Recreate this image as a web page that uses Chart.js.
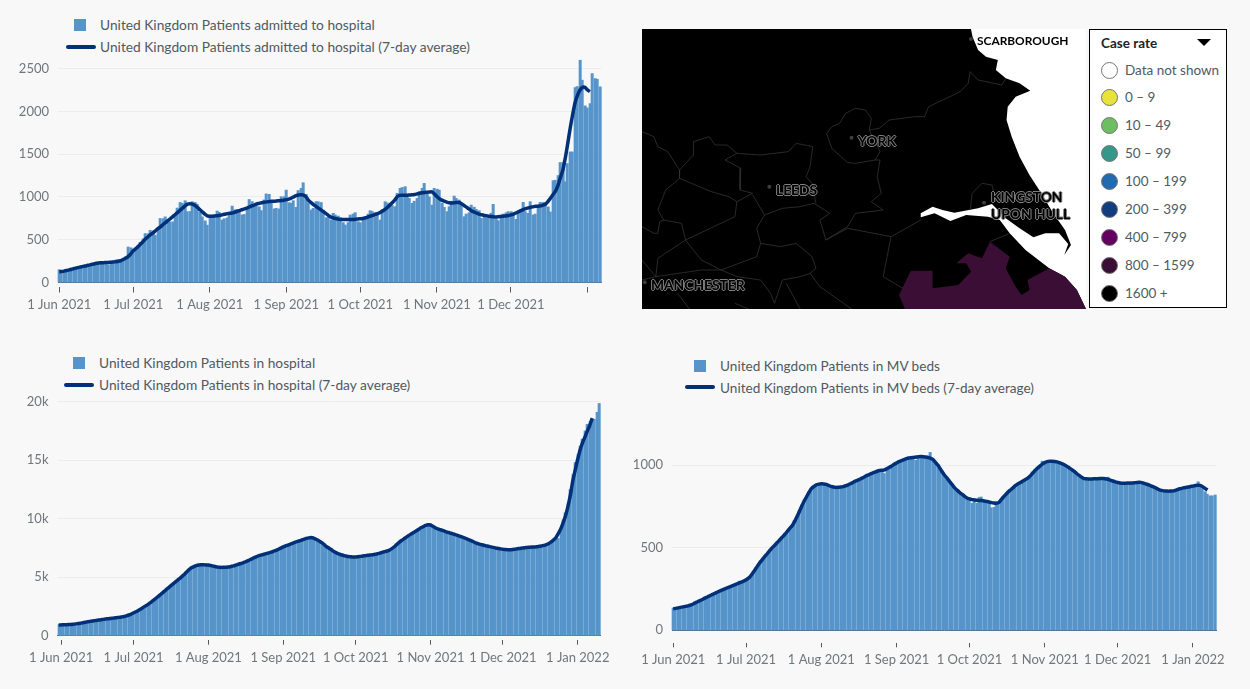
<!DOCTYPE html>
<html lang="en">
<head>
<meta charset="utf-8">
<title>UK hospital charts</title>
<script src="https://cdn.jsdelivr.net/npm/chart.js@4"></script>
<style>
  html, body { margin: 0; padding: 0; background: #f8f8f8; }
  body { position: relative; width: 1250px; height: 689px; overflow: hidden; font-family: Lato, sans-serif; color: #505a5f; }
  canvas { position: absolute; display: block; }
  .legend-text { position: absolute; font-size: 13.75px; line-height: 18px; white-space: nowrap; }
  .legend-box { position: absolute; width: 12px; height: 12px; background: #5694ca; }
  .legend-line { position: absolute; width: 30px; height: 3.5px; background: #003078; border-radius: 2px; }
  #mapLegend { position: absolute; left: 1089px; top: 29px; width: 136px; height: 277px; border: 1.5px solid #000; background: #fff; }
  #mapLegend .title { position: absolute; left: 11px; top: 4px; font-size: 13.5px; font-weight: 700; line-height: 18px; color: #222; }
  #mapLegend .arrow { position: absolute; left: 107px; top: 9px; width: 0; height: 0; border-left: 7px solid transparent; border-right: 7px solid transparent; border-top: 7px solid #000; }
  #mapLegend .dot { position: absolute; left: 11px; width: 15px; height: 15px; border-radius: 50%; border: 1px solid #777; }
  #mapLegend .txt { position: absolute; left: 35px; font-size: 13.5px; line-height: 18px; white-space: nowrap; color: #505a5f; }
  .city { position: absolute; font-size: 13.8px; font-weight: 700; line-height: 16px; color: #000; white-space: nowrap;
          text-shadow: 1px 0 0 #808080, -1px 0 0 #808080, 0 1px 0 #808080, 0 -1px 0 #808080; }
</style>
</head>
<body>

<div class="legend-box" style="left:74px;top:19px"></div>
<div class="legend-text" style="left:100px;top:16px">United Kingdom Patients admitted to hospital</div>
<div class="legend-line" style="left:66px;top:45px"></div>
<div class="legend-text" style="left:100px;top:38px">United Kingdom Patients admitted to hospital (7-day average)</div>

<div class="legend-box" style="left:73px;top:357px"></div>
<div class="legend-text" style="left:99px;top:354px">United Kingdom Patients in hospital</div>
<div class="legend-line" style="left:64px;top:383px"></div>
<div class="legend-text" style="left:99px;top:376px">United Kingdom Patients in hospital (7-day average)</div>

<div class="legend-box" style="left:694px;top:360px"></div>
<div class="legend-text" style="left:720px;top:357px;font-size:13.6px">United Kingdom Patients in MV beds</div>
<div class="legend-line" style="left:685px;top:385px"></div>
<div class="legend-text" style="left:720px;top:379px;font-size:13.6px">United Kingdom Patients in MV beds (7-day average)</div>

<canvas id="admittedChart" width="625" height="270" style="left:0;top:50px"></canvas>
<canvas id="hospitalChart" width="625" height="299" style="left:0;top:390px"></canvas>
<canvas id="mvChart" width="625" height="299" style="left:625px;top:390px"></canvas>
<canvas id="mapChart" width="444" height="280" style="left:642px;top:29px;background:#000"></canvas>

<div class="city" style="left:977px;top:33px;font-size:11.9px;text-shadow:none">SCARBOROUGH</div>
<div class="city" style="left:858px;top:133px">YORK</div>
<div class="city" style="left:776px;top:182px">LEEDS</div>
<div class="city" style="left:991px;top:189px">KINGSTON</div>
<div class="city" style="left:991px;top:206px">UPON HULL</div>
<div class="city" style="left:651px;top:277px">MANCHESTER</div>

<div id="mapLegend">
  <div class="title">Case rate</div>
  <div class="arrow"></div>
</div>

<script>
// ---- datos de los graficos ----
const tickLabelsAdmitted = ['1 Jun 2021', '1 Jul 2021', '1 Aug 2021', '1 Sep 2021', '1 Oct 2021', '1 Nov 2021', '1 Dec 2021', ''];
const tickLabelsLong = ['1 Jun 2021', '1 Jul 2021', '1 Aug 2021', '1 Sep 2021', '1 Oct 2021', '1 Nov 2021', '1 Dec 2021', '1 Jan 2022'];
const tickDays = [0, 30, 61, 92, 122, 153, 183, 214];
const admittedYTicks = [0, 500, 1000, 1500, 2000, 2500];
const hospitalYTicks = [0, 5000, 10000, 15000, 20000];
const mvYTicks = [0, 500, 1000];

const admittedBars = [
  150,120,125,130,135,140,165,150,160,175,
  185,195,190,205,215,235,240,238,232,225,
  205,225,250,265,270,255,270,300,415,405,
  385,400,430,470,510,572,570,610,600,553,
  625,748,745,767,720,709,709,790,870,935,
  925,955,828,830,944,935,915,820,767,720,
  670,757,755,780,835,820,730,745,755,810,
  893,850,855,850,790,795,860,970,945,880,
  925,885,840,965,1035,1030,950,860,867,860,
  1003,1003,1080,933,925,956,878,1075,1100,1166,
  1030,925,847,866,945,944,935,847,757,760,
  730,808,790,777,760,700,672,700,789,800,
  816,711,699,730,769,800,839,830,816,808,
  730,850,944,930,925,900,886,1042,1100,1110,
  1120,1000,983,925,950,983,1061,1100,1158,1061,
  1000,905,1100,1090,1080,925,878,828,886,950,
  1010,983,964,905,769,800,816,905,880,855,
  839,750,760,755,750,810,913,738,722,760,
  800,815,828,828,800,738,808,850,937,830,
  808,944,789,800,900,937,935,937,884,825,
  1190,1195,1250,1402,1402,1176,1390,1526,1526,2278,
  2290,2597,2364,2064,2040,2090,2441,2383,2375,2286
];
const admittedAverage = [
  125,128,133,140,148,155,163,170,177,184,
  190,196,203,210,217,224,228,230,232,233,
  235,237,240,243,247,255,270,285,305,335,
  370,395,420,450,480,510,535,560,580,605,
  630,650,675,700,722,745,770,795,820,845,
  870,895,915,920,915,900,878,850,825,800,
  778,775,775,778,780,785,790,797,805,808,
  812,820,830,840,850,860,870,882,895,905,
  918,925,932,938,942,945,948,950,952,955,
  958,962,968,975,985,1000,1015,1022,1025,1022,
  1000,960,935,910,890,870,848,828,808,785,
  765,755,748,740,735,735,735,736,736,737,
  738,742,745,748,755,765,775,785,795,806,
  818,835,855,878,905,935,965,1005,1018,1020,
  1020,1020,1022,1024,1028,1035,1042,1048,1052,1055,
  1058,1058,1035,1005,980,962,950,940,932,928,
  932,935,935,920,900,880,860,838,825,812,
  800,792,785,780,775,770,767,765,768,772,
  775,778,782,790,800,812,825,840,852,864,
  872,880,885,890,892,895,905,915,945,985,
  1025,1065,1130,1220,1310,1450,1620,1800,1960,2100,
  2190,2250,2280,2280,2250,2230,null,null,null,null
];

const hospitalBars = [
  960,930,940,950,960,980,1000,1030,1050,1090,
  1120,1170,1200,1240,1270,1310,1340,1360,1400,1430,
  1450,1480,1510,1520,1550,1590,1620,1660,1720,1790,
  1880,1970,2090,2180,2320,2450,2560,2700,2860,3020,
  3180,3350,3500,3690,3870,4050,4200,4380,4550,4720,
  4900,5090,5280,5470,5700,5900,5990,6040,6100,6060,
  6020,6130,6050,5960,5910,5880,5840,5810,5860,5860,
  5880,5920,5930,6030,6120,6170,6220,6300,6400,6500,
  6600,6700,6800,6910,6900,6950,7060,7100,7190,7260,
  7310,7420,7520,7620,7700,7730,7860,7950,8020,8100,
  8150,8230,8300,8380,8420,8390,8310,8230,8100,7980,
  7800,7590,7500,7300,7180,7050,7000,6930,6860,6820,
  6790,6720,6690,6640,6770,6800,6830,6850,6880,6920,
  6950,6970,7030,7090,7150,7210,7280,7360,7480,7640,
  7830,8020,8180,8320,8460,8600,8750,8870,9000,9120,
  9280,9370,9470,9600,9550,9380,9210,9050,9100,9020,
  8950,8870,8820,8740,8700,8640,8540,8470,8400,8310,
  8220,8110,8030,7940,7830,7780,7700,7620,7640,7610,
  7530,7480,7430,7400,7370,7340,7330,7370,7390,7420,
  7450,7480,7520,7500,7580,7570,7600,7620,7560,7660,
  7700,7730,7770,7920,8040,8120,8300,8300,9100,9900,
  10500,11300,12500,13800,14800,15500,16200,16800,17500,18070,
  18300,18400,18500,19100,19850
];
const hospitalAverage = [
  920,925,930,940,950,965,985,1010,1040,1070,
  1110,1150,1190,1225,1260,1290,1320,1350,1380,1410,
  1440,1465,1490,1515,1540,1565,1600,1640,1700,1770,
  1850,1950,2050,2160,2290,2420,2550,2680,2830,2990,
  3150,3320,3490,3660,3840,4020,4190,4360,4530,4700,
  4870,5045,5240,5440,5650,5800,5900,5990,6040,6060,
  6060,6050,6040,6000,5950,5900,5860,5840,5840,5850,
  5870,5900,5950,6000,6080,6150,6210,6290,6370,6470,
  6570,6670,6760,6840,6900,6960,7020,7080,7140,7220,
  7300,7390,7480,7590,7670,7750,7830,7910,7990,8060,
  8130,8200,8280,8340,8380,8370,8300,8200,8080,7950,
  7780,7600,7480,7340,7200,7080,6990,6920,6850,6810,
  6770,6740,6720,6720,6750,6780,6810,6840,6870,6900,
  6920,6960,7000,7060,7120,7180,7240,7320,7440,7600,
  7790,7980,8140,8280,8420,8570,8700,8830,8950,9080,
  9220,9320,9420,9490,9460,9350,9230,9130,9060,9000,
  8920,8850,8790,8720,8660,8590,8510,8450,8370,8280,
  8190,8100,8010,7920,7850,7790,7730,7680,7640,7590,
  7550,7500,7460,7420,7390,7360,7350,7350,7370,7400,
  7430,7460,7490,7520,7540,7560,7580,7590,7610,7640,
  7670,7720,7790,7880,8020,8190,8400,8750,9150,9680,
  10300,11100,12100,13300,14200,15100,15900,16500,17000,17500,
  18000,18600,null,null,null
];

const mvBars = [
  135,135,138,140,143,146,150,155,160,168,
  175,182,190,197,204,210,218,225,232,240,
  246,252,258,264,270,276,282,298,294,300,
  309,318,335,355,372,398,420,436,455,470,
  490,506,520,536,553,568,585,602,620,640,
  665,692,725,760,790,815,842,862,875,885,
  890,886,888,880,876,868,864,862,866,870,
  873,878,884,892,898,906,912,918,926,935,
  942,948,955,960,962,970,972,950,984,990,
  1000,1010,1020,1025,1030,1030,1042,1044,1048,1052,
  1030,1052,1056,1058,1052,1050,1078,1030,1012,1005,
  980,958,938,920,900,882,860,850,835,826,
  810,800,795,770,790,770,805,808,790,778,
  775,743,745,778,780,795,810,822,845,855,
  860,875,885,900,892,915,925,940,960,975,
  990,1002,1025,1020,1028,1030,1028,1026,1022,1018,
  1012,1005,998,988,978,968,955,942,932,925,
  918,920,916,922,918,922,918,924,920,928,
  912,906,902,896,896,892,888,894,892,895,
  896,890,900,898,892,884,882,876,866,862,
  855,846,844,842,840,846,848,852,856,848,
  866,868,872,868,880,885,900,870,855,840,
  825,815,815,820
];
const mvAverage = [
  130,133,136,139,142,145,148,152,158,166,
  173,180,187,195,202,209,216,223,230,237,
  244,250,256,262,268,274,280,286,292,298,
  306,316,332,352,374,396,416,434,452,470,
  488,504,518,534,550,566,582,600,618,634,
  660,690,722,755,785,812,838,860,872,882,
  886,888,887,884,878,872,868,866,867,868,
  871,876,882,888,896,904,910,917,924,932,
  940,946,952,958,964,968,970,972,980,988,
  996,1006,1014,1022,1028,1034,1040,1044,1046,1048,
  1050,1052,1053,1052,1050,1047,1042,1034,1018,1000,
  978,955,935,918,898,880,862,848,835,824,
  812,802,796,792,790,788,787,786,784,781,
  778,774,771,770,774,790,808,824,840,852,
  865,878,888,896,905,914,922,936,952,968,
  982,995,1007,1016,1022,1024,1024,1023,1021,1016,
  1010,1003,995,985,975,965,952,940,930,920,
  918,917,917,918,919,919,920,920,919,915,
  910,905,900,896,893,891,891,892,892,893,
  894,896,897,895,890,885,880,874,868,860,
  853,848,845,844,843,844,845,850,855,859,
  863,866,868,871,874,877,879,878,870,860,
  850,null,null,null
];

// ---- datos del mapa ----
const seaOutline = [[862,27],[866,50],[880,90],[900,110],[930,120],[925,150],[950,175],[985,190],[1012,212],[975,230],[955,260],[952,300],
  [965,350],[985,410],[1010,465],[1040,520],[1070,580],[1100,630],[1115,675],[1098,705],[1108,672],[1085,640],[1050,640],[1020,652],[985,625],
  [950,595],[930,570],[915,552],[880,565],[820,578],[790,570],[765,560],[735,580],[735,592],[770,580],[810,603],[850,585],[905,590],[935,600],
  [960,640],[1000,690],[1060,745],[1100,770],[1130,810],[1153,867],[1153,27]];
const highRateArea = [[695,867],[680,825],[710,752],[765,752],[765,805],[830,795],[862,755],[850,730],[825,730],[855,700],[890,715],[910,665],
  [960,710],[950,745],[975,800],[990,825],[1010,810],[1005,780],[1060,745],[1100,770],[1130,810],[1153,867]];
const borderLines = [
  [[860,155],[855,190],[835,215],[800,235],[755,260],[745,290],[720,290],[655,300],[630,325],[605,330],[610,295],[595,270],[570,265],[545,280],[530,310],[510,320],[497,340],[510,385],[550,428],[570,430],[620,420],[632,395],[605,330]],
  [[860,155],[880,180],[940,195],[950,175]],
  [[620,420],[632,420],[625,470],[635,520],[610,545],[640,570],[570,580],[550,620],[495,660],[480,600],[505,580],[465,550],[430,560],[385,565],[340,585],[310,525]],
  [[30,335],[60,350],[70,380],[95,395],[125,450],[160,405],[160,365],[200,350],[215,375],[245,375],[270,400],[330,405],[400,395],[420,370],[462,380],[455,440],[445,470],[460,490],[470,550]],
  [[270,400],[240,420],[280,445],[278,510],[310,520],[270,545],[250,530],[205,515],[125,475],[90,510],[70,570],[85,600],[130,610],[140,660],[265,590],[270,545]],
  [[125,450],[125,475]],
  [[140,660],[180,720],[230,750],[320,710],[330,670],[320,625],[340,585]],
  [[330,670],[380,680],[420,670],[460,710],[470,745],[455,760],[480,800],[540,850],[560,867]],
  [[495,660],[550,625],[660,650],[640,770],[690,805]],
  [[660,650],[735,600]],
  [[30,620],[60,640],[70,640],[75,605],[85,600]],
  [[140,660],[70,715],[65,770],[180,750],[230,750]],
  [[230,750],[270,770],[330,780],[355,820],[365,850],[385,780],[430,770],[455,760]],
  [[395,790],[430,867]],
  [[265,850],[300,867]],
  [[120,820],[150,867]],
  [[30,720],[65,770],[30,780]],
  [[860,570],[865,520],[890,490],[915,495],[925,545]],
  [[960,640],[910,665]]
];
const cityDots = [[862,57],[560,353],[352,500],[895,548],[37,787]];

// ---- leyenda del mapa ----
const rateLabels = ['Data not shown', '0 – 9', '10 – 49', '50 – 99', '100 – 199', '200 – 399', '400 – 799', '800 – 1599', '1600 +'];
const rateColors = ['#ffffff', '#e7e33a', '#6dbd63', '#35978a', '#1f6ab1', '#123e80', '#640060', '#3a0e35', '#000000'];
const rateRows = [32, 59, 87, 115, 143, 171, 199, 227, 255];

const mapLegend = document.getElementById('mapLegend');
rateLabels.forEach((label, i) => {
  mapLegend.innerHTML += `<div class="dot" style="top:${rateRows[i]}px;background:${rateColors[i]}"></div>`
    + `<div class="txt" style="top:${rateRows[i] - 1}px">${label}</div>`;
});

// un dia por barra
function dayCategories(startDay, count) {
  const out = [];
  for (let i = 0; i < count; i++) {
    const d = new Date(2021, 5, startDay + i);
    out.push(d.toDateString());
  }
  return out;
}

// barras ajustadas al pixel, asi salen las lineas claras entre barras
const snapBars = {
  id: 'snapBars',
  afterDatasetsUpdate(chart) {
    chart.getSortedVisibleDatasetMetas().forEach(meta => {
      if (meta.type !== 'bar') return;
      meta.data.forEach(bar => {
        const left = Math.round(bar.x - bar.width / 2);
        bar.width = 2.35;
        bar.x = left + bar.width / 2;
      });
    });
  }
};

function barLineChart(id, categories, bars, average, tickPositions, tickLabels, cfg) {
  return new Chart(document.getElementById(id), {
    plugins: [snapBars],
    data: {
      labels: categories,
      datasets: [
        { type: 'line', data: average, borderColor: '#003078', borderWidth: 3.5, pointRadius: 0, tension: 0.3, spanGaps: false },
        { type: 'bar', data: bars, backgroundColor: '#5694ca', borderWidth: 0, barPercentage: 1, categoryPercentage: 1, clip: false }
      ]
    },
    options: {
      responsive: false,
      animation: false,
      layout: { autoPadding: false, padding: { top: cfg.top, right: cfg.right, left: 0, bottom: 0 } },
      plugins: { legend: { display: false }, tooltip: { enabled: false } },
      scales: {
        x: {
          afterBuildTicks: scale => { scale.ticks = tickPositions.map(v => ({ value: v })); },
          afterFit: scale => { scale.height = cfg.axisHeight; scale.paddingLeft = 0; scale.paddingRight = 0; },
          border: { display: true, color: '#4f7192', width: 1 },
          grid: {
            offset: false,
            drawOnChartArea: false,
            tickColor: '#505a5f',
            tickLength: cfg.tickGap + cfg.tickLen,
            tickBorderDash: [0, cfg.tickGap, cfg.tickLen, 100]
          },
          ticks: {
            autoSkip: false,
            maxRotation: 0,
            padding: cfg.labelPad,
            color: '#6f777b',
            font: { family: 'Lato', size: 13 },
            callback: (value, index) => tickLabels[index]
          }
        },
        y: {
          min: 0,
          max: cfg.max,
          afterBuildTicks: scale => { scale.ticks = cfg.yTicks.map(v => ({ value: v })); },
          afterFit: scale => { scale.width = cfg.left; scale.paddingTop = 0; scale.paddingBottom = 0; },
          border: { display: false },
          grid: { color: '#ececec', drawTicks: false },
          ticks: {
            padding: 9,
            color: '#6f777b',
            font: { family: 'Lato', size: 13 },
            callback: cfg.format
          }
        }
      }
    }
  });
}

barLineChart('admittedChart', dayCategories(1, admittedBars.length), admittedBars, admittedAverage, tickDays, tickLabelsAdmitted,
  { top: 5.7, right: 24, left: 58, axisHeight: 37.5, max: 2650, yTicks: admittedYTicks, tickGap: 4, tickLen: 6, labelPad: 5, format: v => v });

barLineChart('hospitalChart', dayCategories(0, hospitalBars.length), hospitalBars, hospitalAverage, tickDays.map(d => d + 1), tickLabelsLong,
  { top: 11.7, right: 24.3, left: 57.5, axisHeight: 53.3, max: 20000, yTicks: hospitalYTicks, tickGap: 4, tickLen: 5, labelPad: 5, format: v => v === 0 ? '0' : (v / 1000) + 'k' });

barLineChart('mvChart', dayCategories(1, mvBars.length), mvBars, mvAverage, tickDays, tickLabelsLong,
  { top: 58.8, right: 34, left: 47, axisHeight: 58.7, max: 1100, yTicks: mvYTicks, tickGap: 12, tickLen: 5, labelPad: 5, format: v => v });

// rellena los poligonos del mapa (costa y zona de tasa alta)
const polygonFill = {
  id: 'polygonFill',
  beforeDatasetDraw(chart, args) {
    const ds = chart.data.datasets[args.index];
    if (!ds.polygonColor) return;
    const ctx = chart.ctx;
    ctx.save();
    ctx.fillStyle = ds.polygonColor;
    ctx.beginPath();
    args.meta.data.forEach((pt, i) => {
      if (i === 0) ctx.moveTo(pt.x, pt.y); else ctx.lineTo(pt.x, pt.y);
    });
    ctx.closePath();
    ctx.fill();
    ctx.restore();
  }
};

const toPoints = pairs => pairs.map(p => ({ x: p[0], y: p[1] }));

new Chart(document.getElementById('mapChart'), {
  type: 'scatter',
  plugins: [polygonFill],
  data: {
    datasets: [
      { data: toPoints(cityDots), pointRadius: 2, pointBackgroundColor: '#3d3d3d', pointBorderWidth: 0, showLine: false },
      ...borderLines.map(line => ({ data: toPoints(line), showLine: true, borderColor: '#333333', borderWidth: 0.8, pointRadius: 0 })),
      { data: toPoints(highRateArea), polygonColor: '#3a0e35', showLine: false, pointRadius: 0 },
      { data: toPoints(seaOutline), polygonColor: '#ffffff', showLine: false, pointRadius: 0 }
    ]
  },
  options: {
    responsive: false,
    animation: false,
    layout: { autoPadding: false, padding: 0 },
    plugins: { legend: { display: false }, tooltip: { enabled: false } },
    scales: {
      x: { type: 'linear', display: false, min: 30, max: 1153 },
      y: { type: 'linear', display: false, min: 27, max: 867, reverse: true }
    }
  }
});
</script>
</body>
</html>
